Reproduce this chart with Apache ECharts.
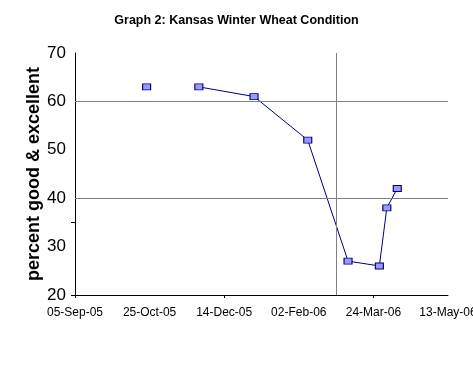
<!DOCTYPE html>
<html>
<head>
<meta charset="utf-8">
<script src="https://cdn.jsdelivr.net/npm/echarts@6/dist/echarts.min.js"></script>
<style>html,body{margin:0;padding:0;background:#fff;}#c{width:473px;height:365px;}</style>
</head>
<body>
<div id="c"></div>
<script>
// Data
var reportDates = ['2005-10-23', null, '2005-11-27', '2006-01-03', '2006-02-08', '2006-03-07', '2006-03-28', '2006-04-02', '2006-04-09'];
var percentGoodExcellent = [63, null, 63, 61, 52, 27, 26, 38, 42];
var xTickLabels = ['2005-09-05', '2005-10-25', '2005-12-14', '2006-02-02', '2006-03-24', '2006-05-13'];
var xMajorTicks = ['2005-09-05', '2005-12-14', '2006-03-24'];
var yTickLabels = [20, 30, 40, 50, 60, 70];
var yTicks = [20, 35];
var yGridValues = [40, 60];
var xGridDates = ['2006-02-27'];

function ts(s) { var p = s.split('-'); return Date.UTC(+p[0], +p[1] - 1, +p[2]); }
var MON = ['Jan','Feb','Mar','Apr','May','Jun','Jul','Aug','Sep','Oct','Nov','Dec'];
function fmt(v) {
  var d = new Date(v);
  var dd = ('0' + d.getUTCDate()).slice(-2);
  var yy = ('0' + (d.getUTCFullYear() % 100)).slice(-2);
  return dd + '-' + MON[d.getUTCMonth()] + '-' + yy;
}

var seriesData = reportDates.map(function (d, i) {
  if (d === null) return [ts('2005-11-10'), '-'];
  return [ts(d), percentGoodExcellent[i]];
});

var markData = yGridValues.map(function (v) { return { yAxis: v }; })
  .concat(xGridDates.map(function (d) { return { xAxis: ts(d) }; }));

var chart = echarts.init(document.getElementById('c'), null, { renderer: 'canvas' });
chart.setOption({
  animation: false,
  backgroundColor: '#ffffff',
  title: {
    text: 'Graph 2: Kansas Winter Wheat Condition',
    left: 'center',
    top: 9,
    textStyle: { fontFamily: 'Liberation Sans, Arial, sans-serif', fontSize: 12.5, fontWeight: 'bold', color: '#000' }
  },
  grid: { left: 75, right: 25, top: 53, bottom: 70, outerBoundsMode: 'none', containLabel: false },
  xAxis: {
    type: 'value',
    min: ts(xTickLabels[0]),
    max: ts(xTickLabels[xTickLabels.length - 1]),
    axisLine: { show: true, lineStyle: { color: '#000', width: 1 } },
    axisTick: { show: true, length: 3, customValues: xMajorTicks.map(ts), lineStyle: { color: '#000' } },
    axisLabel: {
      customValues: xTickLabels.map(ts),
      formatter: function (v) { return fmt(v); },
      fontFamily: 'Liberation Sans, Arial, sans-serif',
      fontSize: 12,
      color: '#000',
      margin: 12,
      hideOverlap: false,
      showMinLabel: true,
      showMaxLabel: true
    },
    splitLine: { show: false }
  },
  yAxis: {
    type: 'value',
    min: 20,
    max: 70,
    name: 'percent good & excellent',
    nameLocation: 'middle',
    nameGap: 32,
    nameMoveOverlap: false,
    nameRotate: 90,
    nameTextStyle: { fontFamily: 'Liberation Sans, Arial, sans-serif', fontSize: 18, fontWeight: 'bold', color: '#000' },
    axisLine: { show: true, lineStyle: { color: '#000', width: 1 } },
    axisTick: { show: true, length: 4, customValues: yTicks, lineStyle: { color: '#000' } },
    axisLabel: {
      customValues: yTickLabels,
      fontFamily: 'Liberation Sans, Arial, sans-serif',
      fontSize: 17,
      color: '#000',
      margin: 9
    },
    splitLine: { show: false }
  },
  series: [{
    type: 'line',
    data: seriesData,
    connectNulls: false,
    symbol: 'rect',
    symbolSize: [8, 6],
    showAllSymbol: true,
    itemStyle: { color: '#9999ff', borderColor: '#000080', borderWidth: 1 },
    lineStyle: { color: '#000080', width: 1 },
    markLine: {
      silent: true,
      symbol: ['none', 'none'],
      label: { show: false },
      lineStyle: { color: '#808080', type: 'solid', width: 1 },
      data: markData,
      animation: false
    },
    z: 3
  }]
});
</script>
</body>
</html>
